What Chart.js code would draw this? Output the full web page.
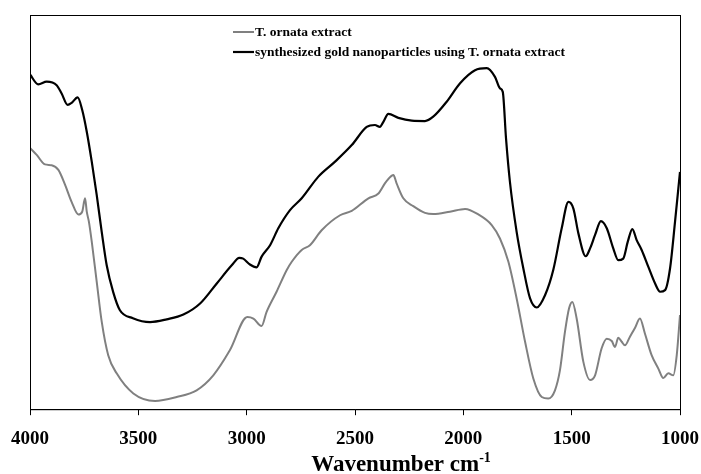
<!DOCTYPE html>
<html>
<head>
<meta charset="utf-8">
<script src="https://cdn.jsdelivr.net/npm/chart.js@4"></script>
<style>
  html, body { margin: 0; padding: 0; background: #fff; }
  #wrap { width: 701px; height: 474px; }
</style>
</head>
<body>
<div id="wrap"><canvas id="ftir"></canvas></div>
<script>
// wavenumbers (cm-1) and transmittance-like values
const extractWave = [4000, 3969, 3931, 3900, 3869, 3838, 3808, 3777, 3759, 3746, 3738, 3728, 3715, 3692, 3669, 3639, 3600, 3523, 3423, 3323, 3231, 3154, 3077, 2997, 2969, 2931, 2908, 2862, 2815, 2792, 2746, 2708, 2654, 2569, 2515, 2438, 2392, 2362, 2346, 2323, 2308, 2277, 2231, 2177, 2139, 2062, 1992, 1931, 1869, 1831, 1792, 1754, 1715, 1677, 1638, 1608, 1577, 1554, 1531, 1512, 1497, 1477, 1446, 1415, 1392, 1362, 1338, 1315, 1300, 1285, 1269, 1254, 1231, 1208, 1185, 1162, 1131, 1100, 1077, 1054, 1031, 1015, 1000];
const extractVal = [66.3, 64.5, 62.1, 61.9, 60.7, 56.9, 52.6, 49.4, 50.1, 53.5, 50.1, 47.5, 42.5, 32.3, 22.2, 13.7, 9.1, 4.0, 2.1, 3.1, 4.8, 8.6, 15.0, 23.4, 23.0, 21.1, 24.7, 29.8, 35.3, 37.4, 40.4, 41.6, 45.4, 49.2, 50.3, 53.5, 54.7, 57.3, 58.4, 59.4, 57.3, 53.5, 51.5, 49.8, 49.5, 50.1, 50.8, 49.4, 46.7, 43.3, 37.4, 28.1, 17.1, 7.8, 3.1, 2.7, 4.8, 9.9, 19.6, 25.6, 27.2, 23.0, 12.0, 7.4, 8.6, 15.4, 17.9, 17.3, 15.8, 18.1, 17.1, 16.2, 18.4, 20.6, 23.0, 19.2, 13.7, 10.3, 7.9, 9.1, 8.6, 13.7, 23.9];

const goldWave = [4000, 3962, 3923, 3877, 3854, 3826, 3808, 3780, 3759, 3738, 3715, 3692, 3669, 3646, 3616, 3585, 3525, 3446, 3369, 3292, 3215, 3138, 3069, 3034, 3016, 2985, 2954, 2931, 2892, 2854, 2800, 2746, 2669, 2592, 2515, 2446, 2408, 2385, 2369, 2346, 2300, 2238, 2177, 2139, 2077, 2015, 1946, 1892, 1854, 1831, 1818, 1803, 1785, 1754, 1723, 1692, 1661, 1623, 1585, 1546, 1515, 1492, 1469, 1435, 1415, 1392, 1365, 1338, 1308, 1285, 1262, 1241, 1220, 1200, 1177, 1146, 1115, 1092, 1069, 1046, 1023, 1000];
const goldVal = [84.9, 82.4, 83.1, 82.2, 80.1, 77.2, 77.7, 79.1, 75.9, 70.4, 62.8, 54.3, 45.0, 36.5, 29.7, 25.1, 23.1, 22.1, 22.8, 24.0, 26.8, 31.9, 36.5, 38.4, 38.2, 36.7, 36.0, 38.7, 41.6, 45.9, 50.5, 53.5, 59.0, 62.8, 67.0, 71.6, 72.1, 71.6, 72.9, 74.9, 73.9, 73.2, 73.1, 74.2, 78.0, 82.7, 86.0, 86.5, 84.3, 81.4, 80.5, 68.7, 57.7, 45.0, 35.7, 28.1, 25.8, 28.9, 35.3, 45.9, 52.6, 50.9, 44.6, 38.8, 40.8, 44.2, 47.7, 45.9, 40.8, 37.8, 38.2, 42.5, 45.7, 42.9, 40.4, 36.1, 31.9, 29.8, 30.2, 35.7, 47.5, 60.2];

const seriesNames = ['T. ornata extract', 'synthesized gold nanoparticles using T. ornata extract'];
const xTicks = [4000, 3500, 3000, 2500, 2000, 1500, 1000];

const toPoints = (xs, ys) => xs.map((x, i) => ({ x: x, y: ys[i] }));

// box around the plot area
const framePlugin = {
  id: 'frame',
  afterDatasetsDraw(chart) {
    const { ctx, chartArea: a } = chart;
    ctx.save();
    ctx.strokeStyle = '#000';
    ctx.lineWidth = 1;
    ctx.strokeRect(a.left + 0.5, a.top + 0.5, a.right - a.left, a.bottom - a.top);
    ctx.restore();
  }
};

// legend inside the plot, line + bold label, one per row
const legendPlugin = {
  id: 'innerLegend',
  afterDraw(chart) {
    const { ctx, chartArea: a } = chart;
    const x0 = a.left + 203, y0 = a.top + 17;
    ctx.save();
    ctx.font = 'bold 13.5px "Liberation Serif"';
    ctx.textBaseline = 'middle';
    chart.data.datasets.forEach((ds, i) => {
      const y = y0 + i * 20;
      ctx.strokeStyle = ds.borderColor;
      ctx.lineWidth = ds.borderWidth;
      ctx.beginPath();
      ctx.moveTo(x0, y);
      ctx.lineTo(x0 + 21, y);
      ctx.stroke();
      ctx.fillStyle = '#000';
      ctx.fillText(ds.label, x0 + 22, y + 0.5);
    });
    ctx.restore();
  }
};

// x axis title with superscript
const titlePlugin = {
  id: 'xTitle',
  afterDraw(chart) {
    const { ctx } = chart;
    const main = 'Wavenumber cm', sup = '-1';
    ctx.save();
    ctx.font = 'bold 23px "Liberation Serif"';
    const w1 = ctx.measureText(main).width;
    ctx.font = 'bold 14px "Liberation Serif"';
    const w2 = ctx.measureText(sup).width;
    const x = 401 - (w1 + w2) / 2;
    const y = 471;
    ctx.fillStyle = '#000';
    ctx.textBaseline = 'alphabetic';
    ctx.font = 'bold 23px "Liberation Serif"';
    ctx.fillText(main, x, y);
    ctx.font = 'bold 14px "Liberation Serif"';
    ctx.fillText(sup, x + w1, y - 9);
    ctx.restore();
  }
};

const ctx = document.getElementById('ftir').getContext('2d');
new Chart(ctx, {
  type: 'line',
  data: {
    datasets: [
      {
        label: seriesNames[0],
        data: toPoints(extractWave, extractVal),
        borderColor: '#808080',
        borderWidth: 2,
        pointRadius: 0,
        cubicInterpolationMode: 'monotone',
        fill: false
      },
      {
        label: seriesNames[1],
        data: toPoints(goldWave, goldVal),
        borderColor: '#000000',
        borderWidth: 2.2,
        pointRadius: 0,
        cubicInterpolationMode: 'monotone',
        fill: false
      }
    ]
  },
  options: {
    responsive: true,
    maintainAspectRatio: false,
    animation: false,
    layout: { padding: { left: 30, right: 21, top: 15, bottom: 12 } },
    plugins: {
      legend: { display: false },
      tooltip: { enabled: false }
    },
    scales: {
      x: {
        type: 'linear',
        reverse: true,
        min: 1000,
        max: 4000,
        afterBuildTicks: (axis) => { axis.ticks = xTicks.map(v => ({ value: v })); },
        // let the layout padding decide the side margins, not the end labels
        afterFit: (axis) => { axis.paddingLeft = 0; axis.paddingRight = 0; },
        ticks: {
          color: '#000',
          font: { family: '"Liberation Serif"', size: 19, weight: 'bold' },
          padding: 12,
          maxRotation: 0,
          callback: (v) => String(v)
        },
        grid: {
          drawOnChartArea: false,
          drawTicks: true,
          tickLength: 6,
          color: '#000'
        },
        border: { display: true, color: '#000' }
      },
      y: {
        display: false,
        min: 0,
        max: 100
      }
    }
  },
  plugins: [framePlugin, legendPlugin, titlePlugin]
});
</script>
</body>
</html>
